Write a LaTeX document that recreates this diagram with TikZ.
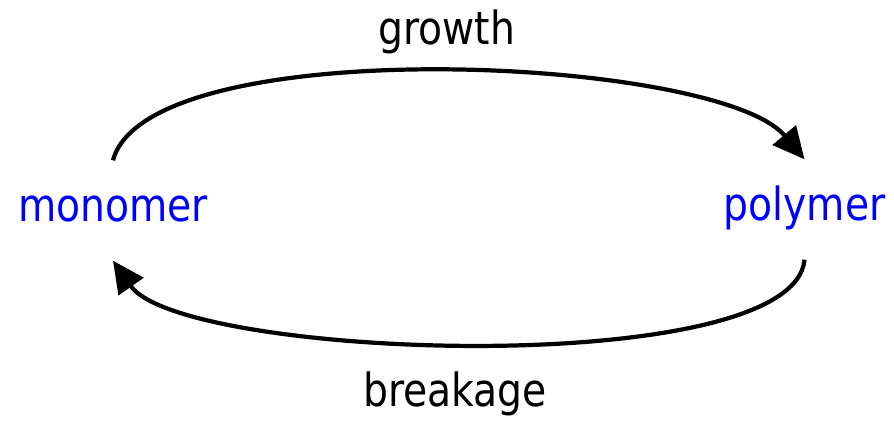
\documentclass[tikz,border=0pt]{standalone}
\usepackage{fontspec}
\setmainfont{DejaVu Sans}[FakeStretch=0.86]
\usepackage{tikz}
\usetikzlibrary{arrows.meta}

\begin{document}
\begin{tikzpicture}[
    species/.style={text=blue, anchor=base, text height=0.33cm, text depth=0.1cm, inner xsep=0pt, inner ysep=0.28cm},
    process/.style={anchor=base, inner sep=0pt},
    flow/.style={line width=1.2pt, -{Triangle[length=9pt,width=8.5pt]}}
]
    \fontsize{13}{15}\selectfont
    % Fix the frame
    \useasboundingbox (0,0) rectangle (8.94,4.25);

    % The two species
    \node[species] (monomer) at (1.13,2.03) {monomer};
    \node[species] (polymer) at (8.045,2.04) {polymer};

    % Process labels
    \node[process] (growth) at (4.465,3.80) {growth};
    \node[process] (breakage) at (4.55,0.18) {breakage};

    % Draw the cycle
    \draw[flow] (monomer.north) to[out=75, in=130, looseness=0.5] (polymer.north);
    \draw[flow] (polymer.south) to[out=-95, in=-55, looseness=0.45] (monomer.south);
\end{tikzpicture}
\end{document}
